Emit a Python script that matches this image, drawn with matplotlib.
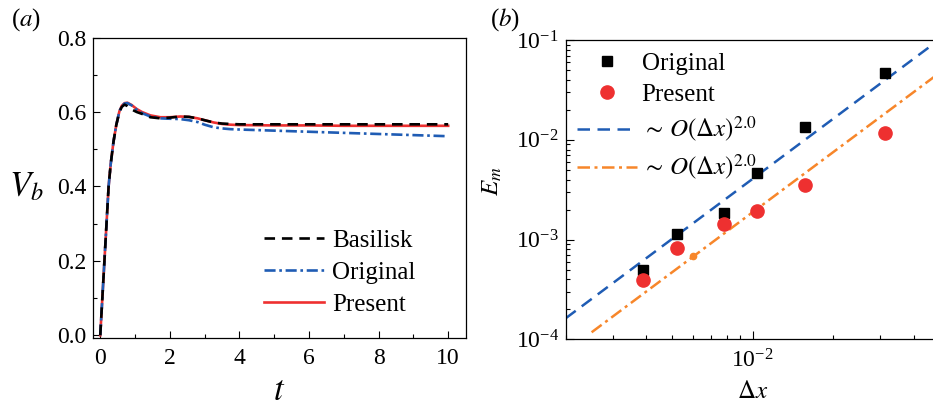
import matplotlib
matplotlib.use("Agg")
import matplotlib.pyplot as plt
from matplotlib.ticker import MultipleLocator, LogLocator, FixedLocator, FuncFormatter, NullFormatter
import numpy as np

plt.rcParams['font.family'] = ['Liberation Serif', 'DejaVu Serif']
plt.rcParams['mathtext.fontset'] = 'stix'

# ---------------- Panel (a) data ----------------
t_bas = [0, 0.06, 0.12, 0.18, 0.24, 0.30, 0.38, 0.46, 0.55, 0.62, 0.70, 0.78, 0.90, 1.05, 1.20, 1.44, 1.73, 2.0, 2.3, 2.55, 2.8, 3.0, 3.26, 3.5, 3.74, 4.0, 5.0, 6.0, 7.0, 8.0, 9.0, 10.0]
V_bas = [0, 0.10, 0.20, 0.30, 0.40, 0.46, 0.52, 0.565, 0.600, 0.614, 0.620, 0.616, 0.607, 0.600, 0.595, 0.586, 0.583, 0.585, 0.588, 0.587, 0.583, 0.578, 0.572, 0.569, 0.568, 0.567, 0.567, 0.567, 0.567, 0.567, 0.567, 0.567]

t_ori = [0, 0.06, 0.12, 0.18, 0.24, 0.30, 0.38, 0.46, 0.55, 0.62, 0.70, 0.78, 0.90, 1.05, 1.20, 1.44, 1.73, 2.0, 2.3, 2.55, 2.8, 3.0, 3.26, 3.5, 3.74, 4.0, 5.0, 6.0, 7.0, 8.0, 9.0, 10.0]
V_ori = [0, 0.10, 0.20, 0.30, 0.40, 0.46, 0.52, 0.565, 0.602, 0.616, 0.623, 0.624, 0.618, 0.606, 0.597, 0.588, 0.583, 0.582, 0.581, 0.578, 0.573, 0.566, 0.559, 0.556, 0.554, 0.553, 0.550, 0.547, 0.544, 0.541, 0.538, 0.535]

t_pre = [0, 0.06, 0.12, 0.18, 0.24, 0.30, 0.38, 0.46, 0.55, 0.62, 0.70, 0.78, 0.90, 1.05, 1.20, 1.44, 1.73, 2.0, 2.3, 2.55, 2.8, 3.0, 3.26, 3.5, 3.74, 4.0, 5.0, 6.0, 7.0, 8.0, 9.0, 10.0]
V_pre = [0, 0.10, 0.20, 0.30, 0.40, 0.46, 0.52, 0.565, 0.602, 0.617, 0.624, 0.625, 0.619, 0.608, 0.600, 0.591, 0.586, 0.586, 0.588, 0.587, 0.583, 0.578, 0.572, 0.568, 0.566, 0.565, 0.564, 0.564, 0.563, 0.563, 0.563, 0.563]

# ---------------- Panel (b) data ----------------
dx = [1/256, 1/192, 1/128, 1/96, 1/64, 1/32]
E_original = [5.0e-4, 1.13e-3, 1.86e-3, 4.7e-3, 1.35e-2, 4.7e-2]
E_present = [3.9e-4, 8.2e-4, 1.43e-3, 1.95e-3, 3.5e-3, 1.18e-2]
fit1_dx = [2.0e-3, 5.0e-2]
fit1_E = [1.63e-4, 1.02e-1]
fit2_dx = [2.5e-3, 5.0e-2]
fit2_E = [1.18e-4, 4.72e-2]
fit2_dot_dx = [6.0e-3]
fit2_dot_E = [6.8e-4]

c_blue = '#1f5cb4'
c_red = '#ee3030'
c_orange = '#f7862a'

fig = plt.figure(figsize=(9.33, 4.09), dpi=100)

# ---------------- Panel (a) ----------------
ax1 = fig.add_axes([0.100, 0.173, 0.399, 0.735])
ax1.plot(t_pre, V_pre, color=c_red, lw=1.9, label='Present', zorder=2)
ax1.plot(t_ori, V_ori, color=c_blue, lw=1.9, dashes=(4.2, 1.4, 1.0, 1.4), label='Original', zorder=3)
ax1.plot(t_bas, V_bas, color='black', lw=1.9, dashes=(4.0, 2.6), label='Basilisk', zorder=4)
ax1.set_xlim(-0.2, 10.5)
ax1.set_ylim(-0.008, 0.8)
ax1.xaxis.set_major_locator(MultipleLocator(2))
ax1.xaxis.set_minor_locator(MultipleLocator(1))
ax1.yaxis.set_major_locator(MultipleLocator(0.2))
ax1.yaxis.set_minor_locator(MultipleLocator(0.1))
ax1.yaxis.set_major_formatter(FuncFormatter(lambda v, p: f'{v:.1f}'))
ax1.tick_params(which='both', direction='in', labelsize=17, top=False, right=False)
ax1.tick_params(which='major', length=5, width=0.8)
ax1.tick_params(which='minor', length=3, width=0.8)
ax1.tick_params(axis='x', pad=7)
ax1.tick_params(axis='y', pad=5)
ax1.set_xlabel(r'$t$', fontsize=25, labelpad=4)
ax1.set_ylabel(r'$V_b$', fontsize=25, rotation=0, labelpad=22, va='center')
h, l = ax1.get_legend_handles_labels()
order = [2, 1, 0]
ax1.legend([h[i] for i in order], [l[i] for i in order], loc='lower right',
           bbox_to_anchor=(0.925, 0.0), frameon=False, fontsize=18,
           handlelength=2.4, handletextpad=0.3, labelspacing=0.38)
for s in ax1.spines.values():
    s.set_linewidth(0.9)

# ---------------- Panel (b) ----------------
ax2 = fig.add_axes([0.6063, 0.170, 0.401, 0.732])
ax2.set_xscale('log')
ax2.set_yscale('log')
ax2.plot(fit1_dx, fit1_E, color=c_blue, lw=1.8, dashes=(5, 3), label=r'$\sim\, O(\Delta x)^{2.0}$', zorder=2)
ax2.plot(fit2_dx, fit2_E, color=c_orange, lw=1.8, dashes=(5, 1.8, 1.2, 1.8), label=r'$\sim\, O(\Delta x)^{2.0}$', zorder=2)
ax2.plot(fit2_dot_dx, fit2_dot_E, 'o', color=c_orange, ms=4.5, zorder=2)
ax2.plot(dx, E_original, 's', color='black', ms=7.5, label='Original', zorder=3)
ax2.plot(dx, E_present, 'o', color=c_red, ms=9.5, label='Present', zorder=3)
ax2.set_xlim(2.0e-3, 5.0e-2)
ax2.set_ylim(1e-4, 1e-1)
ax2.xaxis.set_major_locator(FixedLocator([1e-2]))
ax2.xaxis.set_minor_locator(LogLocator(base=10, subs=np.arange(2, 10)))
ax2.xaxis.set_minor_formatter(NullFormatter())
ax2.yaxis.set_major_locator(FixedLocator([1e-4, 1e-3, 1e-2, 1e-1]))
ax2.yaxis.set_minor_locator(LogLocator(base=10, subs=np.arange(2, 10)))
ax2.yaxis.set_minor_formatter(NullFormatter())
fmt = FuncFormatter(lambda v, p: r'$\mathregular{10^{%d}}$' % int(round(np.log10(v))))
ax2.xaxis.set_major_formatter(fmt)
ax2.yaxis.set_major_formatter(fmt)
ax2.tick_params(which='both', direction='in', labelsize=17, top=False, right=False)
ax2.tick_params(which='major', length=6, width=0.8)
ax2.tick_params(which='minor', length=3, width=0.8)
ax2.tick_params(axis='x', pad=7)
ax2.tick_params(axis='y', pad=5)
ax2.set_xlabel(r'$\Delta x$', fontsize=18, labelpad=6)
ax2.set_ylabel(r'$E_m$', fontsize=18, labelpad=2)
ax2.yaxis.set_label_coords(-0.165, 0.53)
h2, l2 = ax2.get_legend_handles_labels()
order2 = [2, 3, 0, 1]
ax2.legend([h2[i] for i in order2], [l2[i] for i in order2], loc='upper left',
           bbox_to_anchor=(-0.031, 1.035), frameon=False, fontsize=18,
           handlelength=2.4, handletextpad=0.2, labelspacing=0.36)
for s in ax2.spines.values():
    s.set_linewidth(0.9)

fig.text(0.012, 0.985, r'$\mathregular{(}\mathit{a}\mathregular{)}$', fontsize=18, va='top')
fig.text(0.525, 0.985, r'$\mathregular{(}\mathit{b}\mathregular{)}$', fontsize=18, va='top')

fig.savefig('out.png', dpi=100)
